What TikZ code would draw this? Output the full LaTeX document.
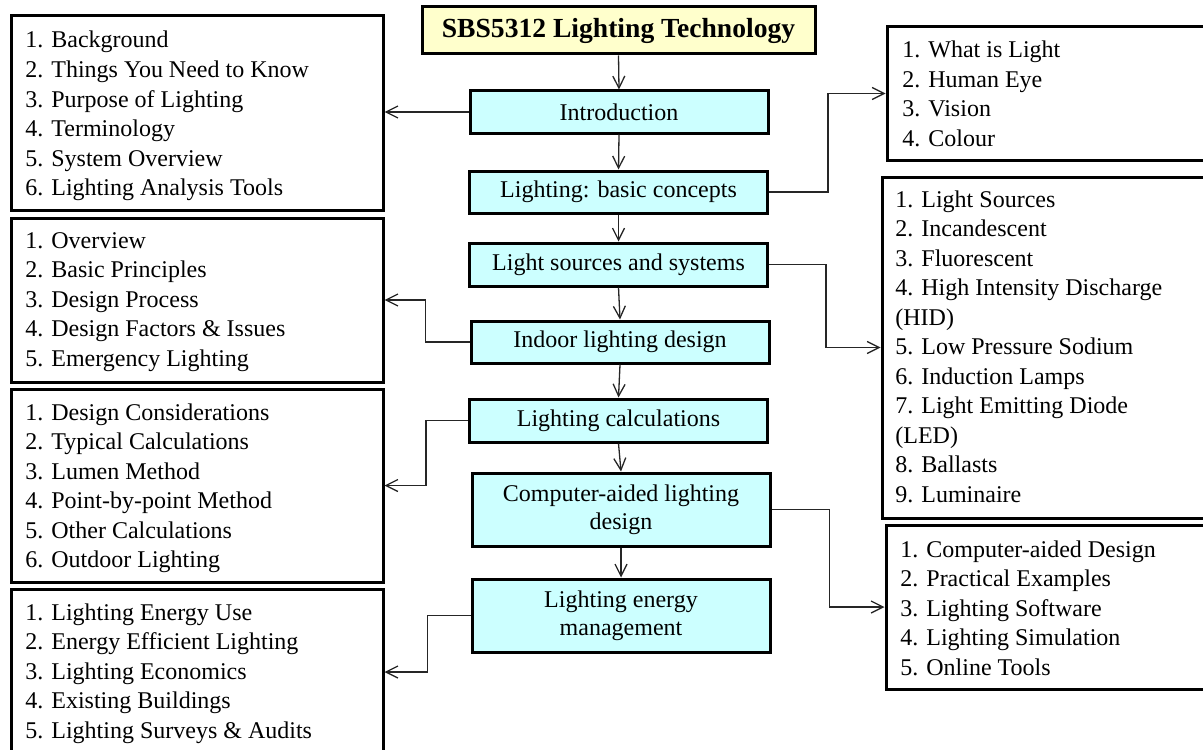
\documentclass[tikz,border=0pt]{standalone}
\usepackage{fontspec}
\setmainfont{Liberation Serif}
\usetikzlibrary{arrows.meta}
\definecolor{boxcyan}{HTML}{CCFFFF}
\definecolor{boxyellow}{HTML}{FFFFCC}
\newcommand{\listtext}[1]{\begin{tabular}[t]{@{}l@{}}#1\end{tabular}}
\begin{document}
\begin{tikzpicture}[x=0.5pt,y=-0.5pt,
  titlebox/.style={draw=black, line width=1.5pt, fill=boxyellow, inner sep=0pt,
    font=\fontsize{13.8}{16}\selectfont\bfseries, minimum width=196.5pt, minimum height=23.5pt},
  topic/.style={draw=black, line width=1.5pt, fill=boxcyan, inner sep=0pt, align=center,
    font=\fontsize{12}{14}\selectfont, minimum width=149pt},
  listbox/.style={draw=black, line width=1.5pt, inner sep=0pt},
  listtxt/.style={anchor=base west, inner sep=0pt, font=\fontsize{12}{14.75}\selectfont},
  link/.style={draw=black!85, line width=0.65pt},
  arr/.style={link, -{Straight Barb[length=6pt,width=6pt]}}
]
\useasboundingbox (0,0) rectangle (1203,749);
\clip (0,0) rectangle (1203,749);

% title and topic column
\node[titlebox] (title) at (618.5,30.5) {SBS5312 Lighting Technology};
\node[topic, minimum height=21pt]   (intro)   at (619,112)     {Introduction};
\node[topic, minimum height=21pt]   (basic)   at (618.5,192)   {Lighting: basic concepts};
\node[topic, minimum height=21.5pt] (sources) at (618.5,264.5) {Light sources and systems};
\node[topic, minimum height=21pt]   (indoor)  at (620,342)     {Indoor lighting design};
\node[topic, minimum height=21.5pt] (calc)    at (618.5,420.5) {Lighting calculations};
\node[topic, minimum height=36.5pt] (cad)     at (621,509.5)   {Computer-aided lighting\\design};
\node[topic, minimum height=36.5pt] (energy)  at (621,615.5)   {Lighting energy\\management};

% left list boxes
\node[listbox, minimum width=186pt, minimum height=97pt]   (L1) at (197,113) {};
\node[listbox, minimum width=186pt, minimum height=82pt]   (L2) at (197,300) {};
\node[listbox, minimum width=186pt, minimum height=96.5pt] (L3) at (197,485.5) {};
\node[listbox, minimum width=186pt, minimum height=83pt]   (L4) at (197,672) {};

% right list boxes
\node[listbox, minimum width=159.5pt, minimum height=66.5pt] (R1) at (1046.5,93.5) {};
\node[listbox, minimum width=162pt,   minimum height=170.5pt] (R2) at (1044,347.5) {};
\node[listbox, minimum width=160pt,   minimum height=82pt]   (R3) at (1046,607) {};

% list texts
\node[listtxt] (L1t) at (25,48) {\listtext{1. Background\\2. Things You Need to Know\\3. Purpose of Lighting\\4. Terminology\\5. System Overview\\6. Lighting Analysis Tools}};
\node[listtxt] (L2t) at (25,248) {\listtext{1. Overview\\2. Basic Principles\\3. Design Process\\4. Design Factors \& Issues\\5. Emergency Lighting}};
\node[listtxt] (L3t) at (25,420) {\listtext{1. Design Considerations\\2. Typical Calculations\\3. Lumen Method\\4. Point-by-point Method\\5. Other Calculations\\6. Outdoor Lighting}};
\node[listtxt] (L4t) at (25,620) {\listtext{1. Lighting Energy Use\\2. Energy Efficient Lighting\\3. Lighting Economics\\4. Existing Buildings\\5. Lighting Surveys \& Audits}};
\node[listtxt] (R1t) at (902,58) {\listtext{1. What is Light\\2. Human Eye\\3. Vision\\4. Colour}};
\node[listtxt] (R2t) at (895,207) {\listtext{1. Light Sources\\2. Incandescent\\3. Fluorescent\\4. High Intensity Discharge\\(HID)\\5. Low Pressure Sodium\\6. Induction Lamps\\7. Light Emitting Diode\\(LED)\\8. Ballasts\\9. Luminaire}};
\node[listtxt] (R3t) at (900,557) {\listtext{1. Computer-aided Design\\2. Practical Examples\\3. Lighting Software\\4. Lighting Simulation\\5. Online Tools}};

% vertical flow
\draw[arr] (title.south) -- (intro.north);
\draw[arr] (intro.south) -- (basic.north);
\draw[arr] (basic.south) -- (sources.north);
\draw[arr] (sources.south) -- (indoor.north);
\draw[arr] (indoor.south) -- (calc.north);
\draw[arr] (calc.south) -- (cad.north);
\draw[arr] (cad.south) -- (energy.north);

% side connectors
\draw[arr] (intro.west) -- (intro.west -| L1.east);
\draw[arr] (basic.east) -- ++(59,0) |- (R1.west);
\draw[arr] (sources.east) -- ++(57,0) |- (R2.west);
\draw[arr] (indoor.west) -- ++(-44,0) |- (L2.east);
\draw[arr] (calc.west) -- ++(-42,0) |- (L3.east);
\draw[arr] (cad.east) -- ++(58,0) |- (R3.west);
\draw[arr] (energy.west) -- ++(-43,0) |- (L4.east);
\end{tikzpicture}
\end{document}
